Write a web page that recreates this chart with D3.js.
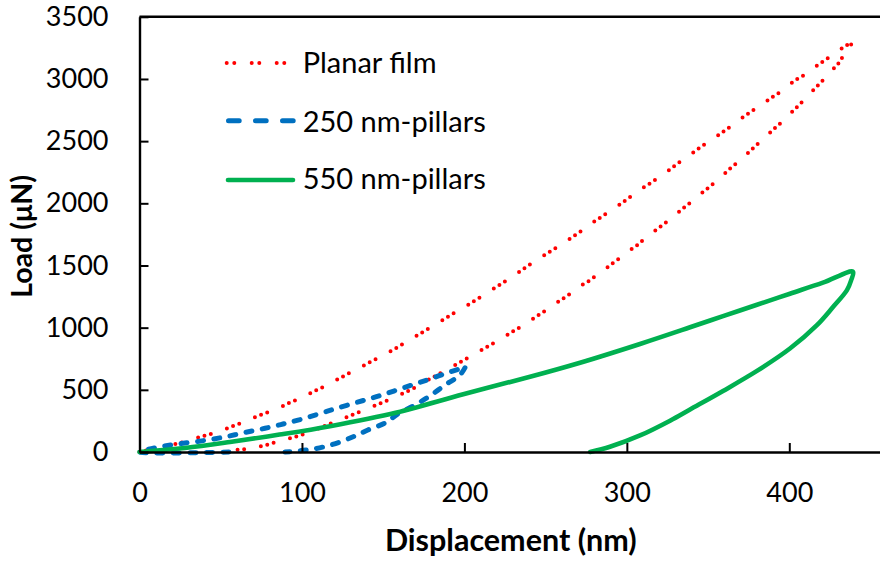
<!DOCTYPE html>
<html>
<head>
<meta charset="utf-8">
<script src="https://cdn.jsdelivr.net/npm/d3@7"></script>
<style>
  html, body { margin: 0; padding: 0; background: #fff; }
  svg { display: block; font-family: Lato, "Open Sans", sans-serif; }
</style>
</head>
<body>
<svg id="chart" width="880" height="561"></svg>
<script>
// ---------------- data ----------------
const seriesNames = ["Planar film", "250 nm-pillars", "550 nm-pillars"];
const seriesColors = ["#FF0000", "#0070C0", "#00B050"];
const xTicks = [0, 100, 200, 300, 400];
const yTicks = [0, 500, 1000, 1500, 2000, 2500, 3000, 3500];
const xTitle = "Displacement (nm)";
const yTitle = "Load (\u03BCN)";

// Planar film: loading then unloading
const planarDisp = [0, 8.5, 13, 17.4, 26.3, 35.8, 44.4, 48.8, 53.2, 66.4, 70.9, 79.3, 83.8, 87.5, 90.6, 95.1, 99.4, 103.7, 108, 112.2, 116.2,
  142.5, 146, 157.1, 168.4, 195.4, 199.3, 217.4, 221.1, 224.4, 228.3, 238.4, 242, 259.9, 263.2, 274.2, 277.5, 294.4, 310.7, 314.1,
  323.9, 327, 330.4, 337.2, 340.5, 346.9, 354.3, 361.5, 364.9, 368.2, 379.1, 386.3, 389.5, 393, 401.7, 404.7, 408.3, 417.1, 420.8,
  427.6, 434.7, 438.2,
  437.8, 434.5, 430.4, 418.9, 415.8, 410.1, 395.3, 392, 388.7, 368.2, 364.9, 355.3, 345, 338.3, 332.5, 329.6, 310.6, 307.3, 303.8,
  300.5, 294.4, 290.9, 287.8, 276.7, 273.4, 270.4, 263.8, 256.4, 249.8, 246.5, 243, 239.8, 236.7, 219.3, 212.1, 190.7, 178.4,
  168.4, 149.5, 118.1, 102.3, 93.9, 89.6, 85.7, 81.4, 77.4, 73.6, 69.9, 65.7, 62.3, 58.8, 57];
const planarLoad = [0, 27, 38, 51, 78, 115, 147, 167, 187, 252, 279, 322, 344, 365, 386, 410, 440, 464, 491, 517, 545,
  727, 751, 829, 917, 1132, 1159, 1309, 1338, 1368, 1398, 1491, 1523, 1671, 1700, 1797, 1832, 1979, 2132, 2159,
  2247, 2277, 2312, 2376, 2406, 2465, 2529, 2596, 2629, 2663, 2760, 2824, 2854, 2883, 2971, 2999, 3025, 3108, 3140,
  3202, 3267, 3292,
  3248, 3213, 3128, 2963, 2926, 2843, 2653, 2615, 2575, 2328, 2296, 2180, 2070, 1998, 1937, 1901, 1714, 1671, 1641,
  1607, 1547, 1515, 1483, 1376, 1352, 1325, 1261, 1196, 1137, 1108, 1078, 1054, 1024, 885, 831, 673, 585,
  509, 397, 231, 147, 115, 99, 83, 70, 54, 43, 32, 24, 19, 16, 0];

// 250 nm pillars
const p250Disp = [55, 0, 13.9, 28, 42.2, 53.9, 65, 77.3, 88.3, 98.8, 112.3, 119.1, 128.3, 138.8, 148, 158.5, 169.6, 178.8, 189.3, 198.5, 200.6,
  197.3, 188.1, 178.8, 169.6, 159.1, 151.1, 140.6, 132.6, 123.4, 113, 104.9, 97.6, 89.6];
const p250Load = [0, 0, 44, 72, 97, 125, 157, 191, 225, 261, 314, 342, 378, 418, 453, 499, 547, 587, 636, 676, 690,
  620, 539, 451, 378, 306, 233, 177, 129, 80, 40, 20, 8, 0];

// 550 nm pillars
const p550Disp = [0, 28, 55.7, 86.2, 117.3, 158.3, 199.3, 240.4, 271.2, 308.1, 338.9, 359.2, 380.1, 400.4, 420.7, 439.2,
  438, 435.5, 426.9, 417, 400.4, 380.1, 359.2, 338.9, 326.6, 308.1, 289.6, 277.4];
const p550Load = [0, 32, 80, 140, 208, 318, 465, 605, 718, 869, 1003, 1093, 1184, 1273, 1362, 1450,
  1378, 1302, 1166, 1020, 832, 652, 491, 342, 252, 133, 42, 0];

// ---------------- layout ----------------
const W = 880, H = 561;
const plot = { left: 139.5, top: 16.8, bottom: 452, right: 139.5 + 1.6245 * 500 };
const svg = d3.select("#chart");

const x = d3.scaleLinear().domain([0, 500]).range([plot.left, plot.right]);
const y = d3.scaleLinear().domain([0, 3500]).range([plot.bottom, plot.top]);

const series = [
  { name: seriesNames[0], color: seriesColors[0], xs: planarDisp, ys: planarLoad, width: 4, dash: "0 6.6 0 6.6 0 17", cap: "round", curve: d3.curveLinear },
  { name: seriesNames[1], color: seriesColors[1], xs: p250Disp, ys: p250Load, width: 5, dash: "6 10.5", cap: "round", curve: d3.curveCatmullRom.alpha(0.5) },
  { name: seriesNames[2], color: seriesColors[2], xs: p550Disp, ys: p550Load, width: 4.6, dash: null, cap: "round", curve: d3.curveCatmullRom.alpha(0.5) }
];

// plot border top line
svg.append("line")
  .attr("x1", plot.left).attr("x2", plot.right)
  .attr("y1", plot.top).attr("y2", plot.top)
  .attr("stroke", "#000").attr("stroke-width", 2.4);

series.forEach(s => {
  const pts = s.xs.map((v, k) => [v, s.ys[k]]);
  const line = d3.line().x(d => x(d[0])).y(d => y(d[1])).curve(s.curve);
  svg.append("path")
    .attr("d", line(pts))
    .attr("fill", "none")
    .attr("stroke", s.color)
    .attr("stroke-width", s.width)
    .attr("stroke-linecap", s.cap)
    .attr("stroke-linejoin", "round")
    .attr("stroke-dasharray", s.dash);
});

// axes
const fontTick = 27;
const xAxis = d3.axisBottom(x).tickValues(xTicks).tickFormat(d3.format("d"))
  .tickSizeInner(-9).tickSizeOuter(0).tickPadding(31);
const yAxis = d3.axisLeft(y).tickValues(yTicks).tickFormat(d3.format("d"))
  .tickSizeInner(-9).tickSizeOuter(0).tickPadding(31);

const gx = svg.append("g").attr("transform", `translate(0,${plot.bottom})`).call(xAxis);
const gy = svg.append("g").attr("transform", `translate(${plot.left},0)`).call(yAxis);
[gx, gy].forEach(g => {
  g.select(".domain").attr("stroke", "#000").attr("stroke-width", 2.4);
  g.selectAll(".tick line").attr("stroke", "#000").attr("stroke-width", 2);
  g.selectAll(".tick text").attr("fill", "#000").style("font-size", fontTick + "px")
    .style("font-family", "Lato, 'Open Sans', sans-serif");
});

// axis titles
svg.append("text")
  .attr("x", (plot.left + W) / 2 + 1).attr("y", 551)
  .attr("text-anchor", "middle")
  .style("font-size", "30.5px").style("font-weight", "bold")
  .text(xTitle);

svg.append("text")
  .attr("transform", `translate(31.5,${(plot.top + plot.bottom) / 2 + 2}) rotate(-90)`)
  .attr("text-anchor", "middle")
  .style("font-size", "28.5px").style("font-weight", "bold")
  .text(yTitle);

// legend
const legendRows = [63, 120.7, 180];
const legendBase = [73.3, 131.5, 189.3];
const legendKeys = [
  { x1: 226.7, x2: 285, dash: "0 7.6 0 17.4" },
  { x1: 228.5, x2: 293.2, dash: "10.7 16.3" },
  { x1: 228, x2: 293, dash: null }
];
series.forEach((s, i) => {
  svg.append("line")
    .attr("x1", legendKeys[i].x1).attr("x2", legendKeys[i].x2)
    .attr("y1", legendRows[i]).attr("y2", legendRows[i])
    .attr("stroke", s.color).attr("stroke-width", s.width)
    .attr("stroke-linecap", s.cap)
    .attr("stroke-dasharray", legendKeys[i].dash);
  svg.append("text")
    .attr("x", 302.7).attr("y", legendBase[i])
    .style("font-size", "29px")
    .text(s.name);
});
</script>
</body>
</html>
